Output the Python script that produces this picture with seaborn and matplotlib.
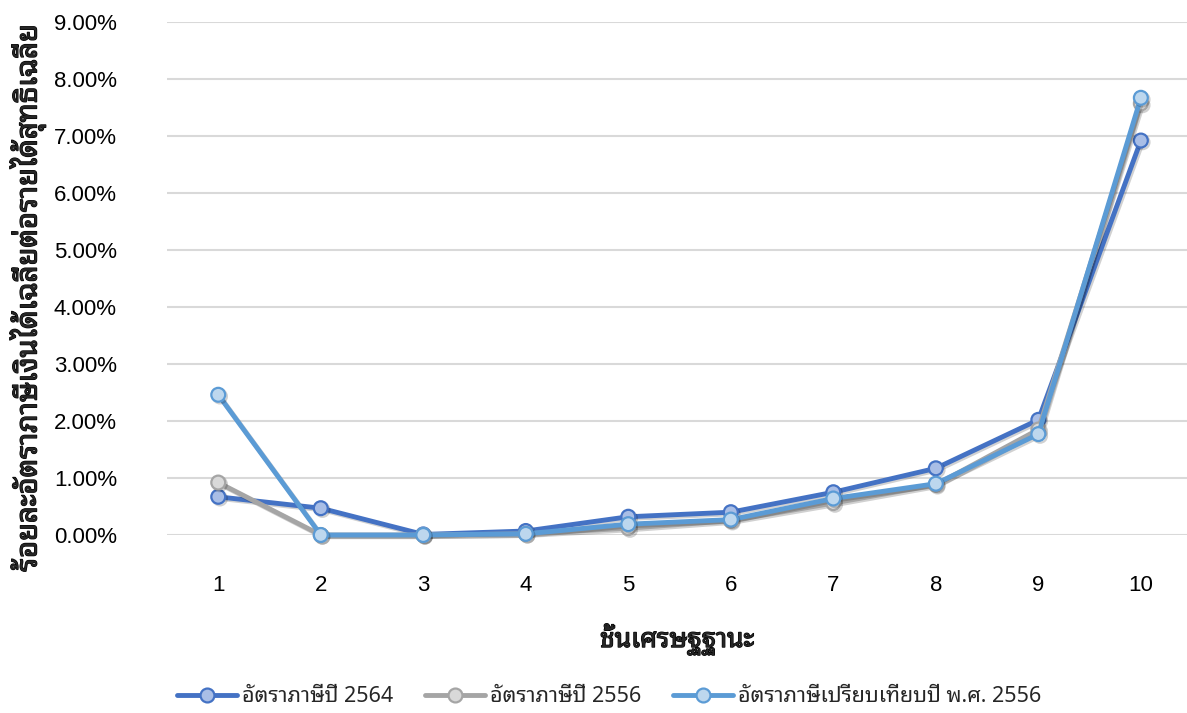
import matplotlib
matplotlib.use("Agg")
import matplotlib.pyplot as plt
import matplotlib.patheffects as pe
import matplotlib.ticker as mticker
from matplotlib import font_manager
import seaborn as sns
import pandas as pd

# Income deciles and average tax rates (percent of average net income)
deciles = [1, 2, 3, 4, 5, 6, 7, 8, 9, 10]
rate_2564 = [0.67, 0.47, 0.01, 0.07, 0.32, 0.40, 0.75, 1.17, 2.02, 6.92]
rate_2556 = [0.92, 0.00, 0.00, 0.02, 0.12, 0.25, 0.56, 0.88, 1.85, 7.57]
rate_cmp_2556 = [2.46, 0.00, 0.00, 0.02, 0.19, 0.27, 0.64, 0.90, 1.77, 7.67]

series_names = ["อัตราภาษีปี 2564", "อัตราภาษีปี 2556", "อัตราภาษีเปรียบเทียบปี พ.ศ. 2556"]
line_colors = ["#4472C4", "#A5A5A5", "#5B9BD5"]
fill_colors = ["#A9BEE6", "#D9D9D9", "#BDD7EE"]

x_title = "ชั้นเศรษฐฐานะ"
y_title = "ร้อยละอัตราภาษีเงินได้เฉลี่ยต่อรายได้สุทธิเฉลี่ย"

df = pd.DataFrame({
    "decile": deciles * 3,
    "rate": rate_2564 + rate_2556 + rate_cmp_2556,
    "series": [series_names[0]] * 10 + [series_names[1]] * 10 + [series_names[2]] * 10,
})

# Pick a Thai-capable family for the Thai labels
installed = {f.name for f in font_manager.fontManager.ttflist}
thai_font = next((n for n in ["Noto Sans Thai Looped", "Noto Sans Thai", "Sarabun", "Tahoma",
                              "Leelawadee UI", "IBM Plex Sans Thai Looped", "IBM Plex Sans Thai",
                              "Anuphan", "Bai Jamjuree"] if n in installed), "DejaVu Sans")

sns.set_theme(style="white")
plt.rcParams["font.family"] = ["Liberation Sans", thai_font, "DejaVu Sans"]

fig = plt.figure(figsize=(11.87, 7.13), dpi=100)
ax = fig.add_axes([167 / 1187, 1 - 535 / 713, (1187 - 167) / 1187, (535 - 22) / 713])

sns.lineplot(
    data=df, x="decile", y="rate", hue="series", hue_order=series_names,
    palette=line_colors, marker="o", markersize=10, linewidth=3.5,
    ax=ax, legend=False, sort=False,
)

shadow = [pe.SimpleLineShadow(offset=(1.2, -1.2), shadow_color="black", alpha=0.18), pe.Normal()]
for line, fc, ec in zip(ax.lines, fill_colors, line_colors):
    line.set_markerfacecolor(fc)
    line.set_markeredgecolor(ec)
    line.set_markeredgewidth(1.6)
    line.set_path_effects(shadow)
    line.set_clip_on(False)

ax.set_ylim(0, 9)
ax.set_xlim(0.5, 10.45)
ax.set_xticks(deciles)
ax.set_xticklabels([str(d) for d in deciles])
ax.set_yticks(list(range(10)))
ax.yaxis.set_major_formatter(mticker.FuncFormatter(lambda v, p: f"{v:.2f}%"))
ax.tick_params(axis="both", length=0, labelsize=16, colors="#000000")
ax.tick_params(axis="x", pad=29)
ax.tick_params(axis="y", pad=36)
ax.grid(axis="y", color="#D9D9D9", linewidth=1.5)
ax.set_axisbelow(True)
for s in ax.spines.values():
    s.set_visible(False)

# Heavier strokes for the axis titles
bold_fx = [pe.withStroke(linewidth=0.9, foreground="black")]
ax.set_xlabel(x_title, fontsize=19, fontweight="bold", labelpad=20,
              family=[thai_font, "DejaVu Sans"], path_effects=bold_fx)
ax.set_ylabel("")
fig.text(27 / 1187, 1 - 298 / 713, y_title, rotation=90, fontsize=21, fontweight="bold",
         ha="center", va="center", family=[thai_font, "DejaVu Sans"], path_effects=bold_fx)

handles = []
for name, lc, fc in zip(series_names, line_colors, fill_colors):
    h, = ax.plot([], [], color=lc, linewidth=3.5, marker="o", markersize=10,
                 markerfacecolor=fc, markeredgecolor=lc, markeredgewidth=1.6, label=name)
    handles.append(h)
fig.legend(handles=handles, loc="center", bbox_to_anchor=(0.513, 1 - 697 / 713), ncol=3,
           frameon=False, handlelength=2.8, columnspacing=1.5, handletextpad=0.2,
           prop={"family": [thai_font, "DejaVu Sans"], "size": 15.5})

fig.savefig("out.png", dpi=100)
